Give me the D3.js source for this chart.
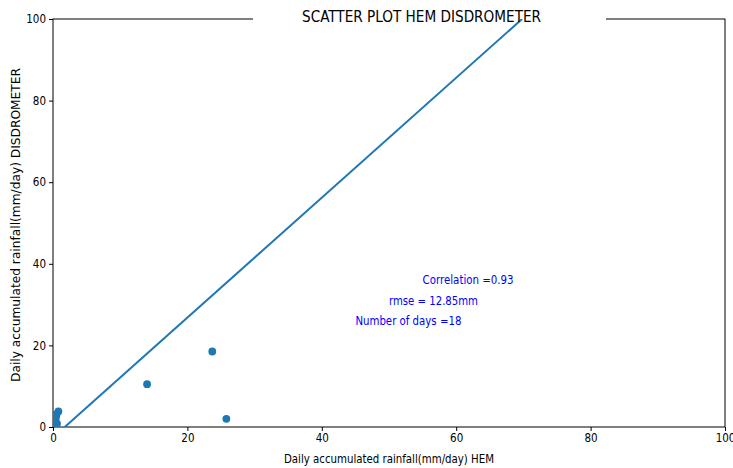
<!DOCTYPE html>
<html><head><meta charset="utf-8">
<script src="https://cdn.jsdelivr.net/npm/d3@7"></script>
<style>body{margin:0;background:#fff}svg{display:block}</style>
</head><body>
<svg id="c" width="733" height="468"></svg>
<script>
// data
const hem = [0, 0.1, 0.2, 0.3, 0.4, 0.5, 0.8, 0.6, 0.3, 0.0, 0.1, 0.2, 0.0, 0.4, 0.2, 14.0, 23.7, 25.8];
const dis = [0, 0.2, 0.6, 1.2, 2.0, 2.8, 3.8, 0.8, 0.0, 0.5, 1.8, 3.0, 0.0, 1.0, 2.4, 10.5, 18.5, 2.0];
const fitX = [1.75, 69.8];
const fitY = [0, 100];
const xTicks = [0, 20, 40, 60, 80, 100];
const yTicks = [0, 20, 40, 60, 80, 100];
const notes = ["Correlation =0.93", "rmse = 12.85mm", "Number of days =18"];
const noteX = [55, 50, 45];
const noteY = [35, 30, 25];

const svg = d3.select("#c");
const L = 53, R = 725, T = 19, B = 427;
const x = d3.scaleLinear().domain([0, 100]).range([L, R]);
const y = d3.scaleLinear().domain([0, 100]).range([B, T]);
const tickFont = "'DejaVu Sans Condensed','Liberation Sans Narrow','DejaVu Sans',sans-serif";

svg.append("clipPath").attr("id", "clip").append("rect")
  .attr("x", L).attr("y", T).attr("width", R - L).attr("height", B - T);

// frame
svg.append("rect").attr("x", L).attr("y", T).attr("width", R - L).attr("height", B - T)
  .attr("fill", "none").attr("stroke", "#000").attr("stroke-width", 1);

// title background (covers the top spine only)
svg.append("rect").attr("x", 253).attr("y", 14).attr("width", 353).attr("height", 9).attr("fill", "#fff");

// points
svg.append("g").attr("clip-path", "url(#clip)").selectAll("circle")
  .data(hem.map((h, i) => [h, dis[i]]))
  .join("circle")
  .attr("cx", d => x(d[0])).attr("cy", d => y(d[1])).attr("r", 3.9)
  .attr("fill", "#1f77b4");

// fit line
svg.append("path").attr("clip-path", "url(#clip)")
  .datum(fitX.map((v, i) => [v, fitY[i]]))
  .attr("d", d3.line().x(d => x(d[0])).y(d => y(d[1])))
  .attr("fill", "none").attr("stroke", "#1f77b4").attr("stroke-width", 2);

// axes
const gx = svg.append("g").attr("transform", `translate(0,${B})`)
  .call(d3.axisBottom(x).tickValues(xTicks).tickSize(4).tickPadding(3).tickFormat(d3.format("d")));
const gy = svg.append("g").attr("transform", `translate(${L},0)`)
  .call(d3.axisLeft(y).tickValues(yTicks).tickSize(4).tickPadding(3).tickFormat(d3.format("d")));
[gx, gy].forEach(g => {
  g.select(".domain").remove();
  g.selectAll("line").attr("stroke", "#000");
  g.selectAll("text").attr("font-family", tickFont).attr("font-size", 11.5).attr("fill", "#000");
});

// title
svg.append("text").attr("x", 421.5).attr("y", 22).attr("text-anchor", "middle")
  .attr("font-family", tickFont).attr("font-size", 15).attr("fill", "#000")
  .attr("textLength", 239).attr("lengthAdjust", "spacingAndGlyphs")
  .text("SCATTER PLOT HEM DISDROMETER");

// axis labels
svg.append("text").attr("x", 389).attr("y", 463).attr("text-anchor", "middle")
  .attr("font-family", tickFont).attr("font-size", 11.6).attr("fill", "#000")
  .attr("textLength", 210).attr("lengthAdjust", "spacingAndGlyphs")
  .text("Daily accumulated rainfall(mm/day) HEM");
svg.append("text").attr("transform", "translate(20,225) rotate(-90)").attr("text-anchor", "middle")
  .attr("font-family", "'DejaVu Sans',sans-serif").attr("font-size", 11.5).attr("fill", "#000")
  .attr("textLength", 314).attr("lengthAdjust", "spacingAndGlyphs")
  .text("Daily accumulated rainfall(mm/day) DISDROMETER");

// annotations
const noteW = [91, 89, 106];
svg.append("g").selectAll("text").data(notes).join("text")
  .attr("x", (d, i) => x(noteX[i])).attr("y", (d, i) => y(noteY[i]))
  .attr("font-family", tickFont).attr("font-size", 11.5).attr("fill", "blue")
  .attr("textLength", (d, i) => noteW[i]).attr("lengthAdjust", "spacingAndGlyphs")
  .text(d => d);
</script>
</body></html>
